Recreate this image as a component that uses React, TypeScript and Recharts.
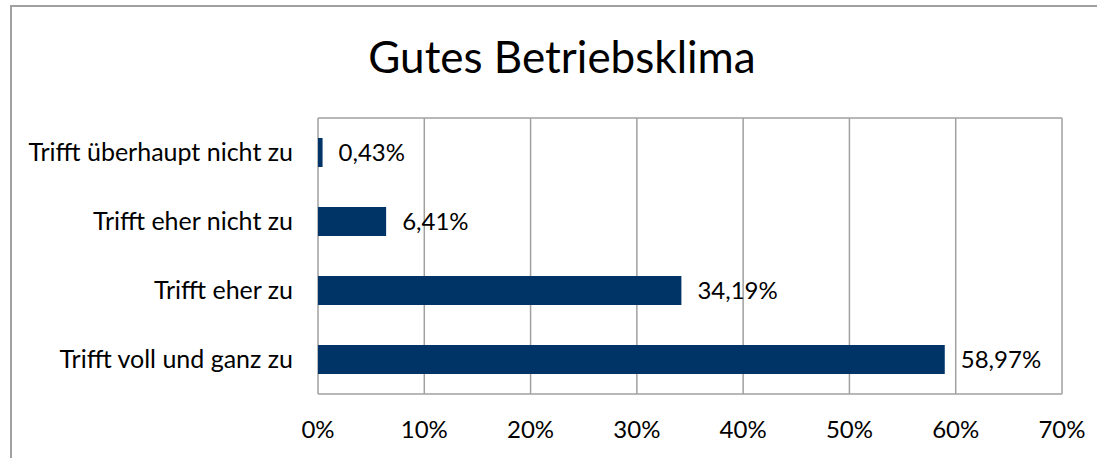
import { BarChart, Bar, XAxis, YAxis, CartesianGrid, LabelList } from "recharts"

// categories top to bottom, as in the picture
const categories = [
  "Trifft überhaupt nicht zu",
  "Trifft eher nicht zu",
  "Trifft eher zu",
  "Trifft voll und ganz zu",
]
const shares = [0.43, 6.41, 34.19, 58.97]
const xTicks = [0, 10, 20, 30, 40, 50, 60, 70]

const chartTitle = "Gutes Betriebsklima"

const data = categories.map((name, i) => ({ name, value: shares[i] }))

const font = "Lato, 'Open Sans', sans-serif"
const gridColor = "#a0a0a0"

export default function App() {
  return (
    <div
      style={{
        position: "absolute",
        left: 0,
        top: 0,
        width: 1097,
        height: 458,
        overflow: "hidden",
        background: "#fff",
        fontFamily: font,
      }}
    >
      {/* outer chart frame, cut off on the right and bottom */}
      <div
        style={{
          position: "absolute",
          left: 10,
          top: 5,
          width: 1200,
          height: 600,
          border: `2px solid ${gridColor}`,
          boxSizing: "border-box",
        }}
      />
      <div
        style={{
          position: "absolute",
          left: 262,
          width: 600,
          top: 34,
          lineHeight: "44px",
          fontSize: 44,
          textAlign: "center",
          color: "#000",
        }}
      >
        {chartTitle}
      </div>
      <div style={{ position: "absolute", left: 0, top: 0 }}>
        <BarChart
          width={1097}
          height={458}
          data={data}
          layout="vertical"
          margin={{ top: 118, right: 35, bottom: 34, left: 8 }}
          barCategoryGap={20}
        >
          <CartesianGrid
            stroke={gridColor}
            strokeWidth={1.5}
            horizontalCoordinatesGenerator={({ offset }: any) => [offset.top, offset.top + offset.height]}
          />
          <XAxis
            type="number"
            domain={[0, 70]}
            ticks={xTicks}
            height={30}
            axisLine={false}
            tickLine={false}
            tickSize={0}
            tickMargin={27}
            interval={0}
            tickFormatter={(v) => `${v}%`}
            tick={{ fill: "#000", fontSize: 24, fontFamily: font }}
          />
          <YAxis
            type="category"
            dataKey="name"
            width={310}
            axisLine={false}
            tickLine={false}
            tickSize={0}
            tickMargin={25}
            interval={0}
            tick={{ fill: "#000", fontSize: 25, fontFamily: font }}
          />
          <Bar dataKey="value" fill="#003366" isAnimationActive={false}>
            <LabelList
              dataKey="value"
              position="right"
              offset={16}
              fill="#000"
              fontSize={24}
              fontFamily={font}
              formatter={(v: any) => `${Number(v).toFixed(2).replace(".", ",")}%`}
            />
          </Bar>
        </BarChart>
      </div>
    </div>
  )
}
